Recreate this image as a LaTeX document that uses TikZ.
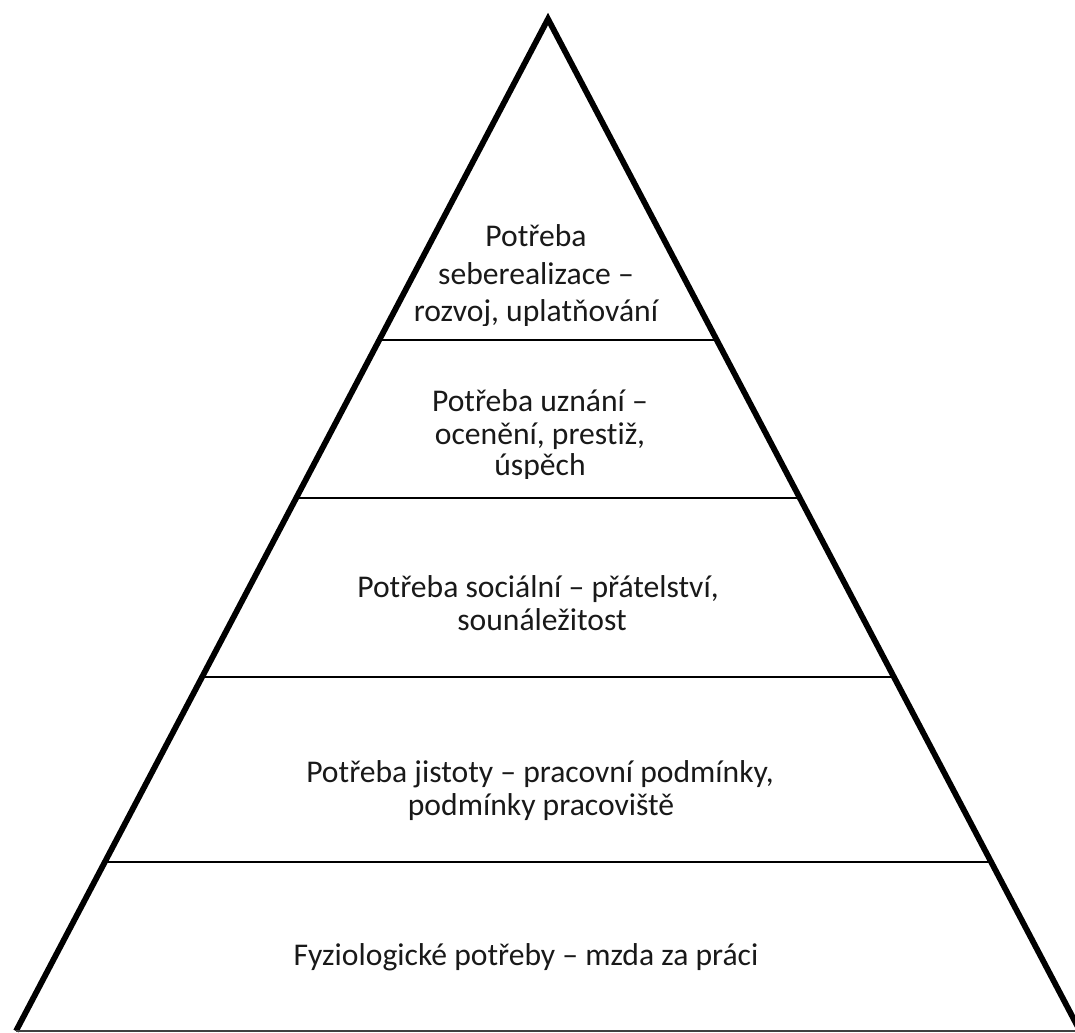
\documentclass[tikz,border=0pt]{standalone}
\usepackage{fontspec}
\setmainfont{Carlito}[Ligatures=NoCommon]
\usetikzlibrary{calc}

\begin{document}
\begin{tikzpicture}[x=0.02cm, y=-0.02cm,
    needtext/.style={anchor=base, inner sep=0pt, text=black!90, font=\fontsize{18}{21}\selectfont},
    sideline/.style={line width=3.3pt, line join=miter},
    divider/.style={line width=0.8pt}]

    \useasboundingbox (0,0) rectangle (1075,1033);
    \coordinate (apex) at (548,19);
    \coordinate (bl) at (16,1031);
    \coordinate (br) at (1080,1031);

    \draw [sideline] (bl) -- (apex) -- (br);
    \draw [divider, black!75] (bl) -- (br);

    % levels of the pyramid
    \foreach \y in {340,498,677,862}
        \draw [divider] ($(apex)!{(\y-19)/1012}!(bl)$) -- ($(apex)!{(\y-19)/1012}!(br)$);

    \node (self1) [needtext] at (536,247) {Potřeba};
    \node (self2) [needtext] at (536,285) {seberealizace –};
    \begin{scope}
        \clip (0,0) rectangle (1075,326);
        \node (self3) [needtext] at (536,322) {rozvoj, uplatňování};
    \end{scope}

    \node (esteem1) [needtext] at (540,412) {Potřeba uznání –};
    \node (esteem2) [needtext] at (540,445) {ocenění, prestiž,};
    \begin{scope}
        \clip (0,0) rectangle (1075,479);
        \node (esteem3) [needtext] at (540,476) {úspěch};
    \end{scope}

    \node (social1) [needtext] at (538,598) {Potřeba sociální – přátelství,};
    \node (social2) [needtext] at (542,630) {sounáležitost};

    \node (safety1) [needtext] at (540,782) {Potřeba jistoty – pracovní podmínky,};
    \node (safety2) [needtext] at (541,815) {podmínky pracoviště};

    \node (physio) [needtext] at (526,965) {Fyziologické potřeby – mzda za práci};
\end{tikzpicture}
\end{document}
